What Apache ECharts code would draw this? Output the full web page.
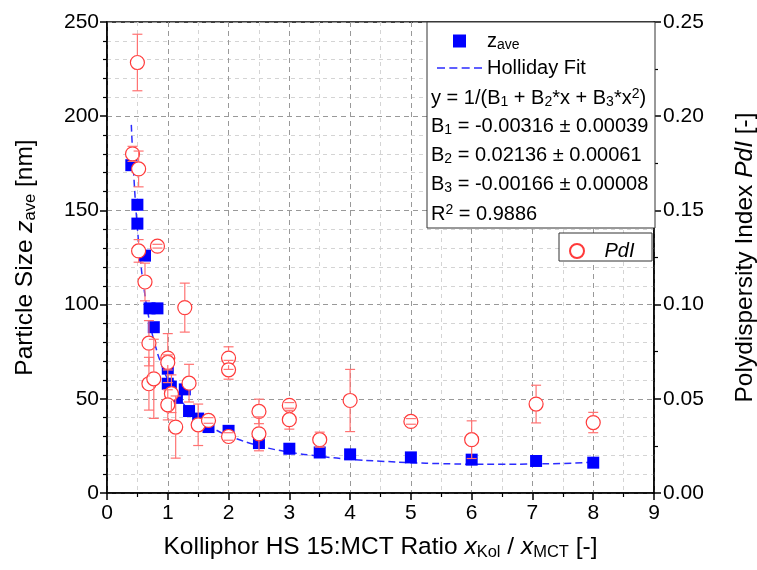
<!DOCTYPE html>
<html>
<head>
<meta charset="utf-8">
<script src="https://cdn.jsdelivr.net/npm/echarts@6.0.0/dist/echarts.min.js"></script>
<style>
  body { margin: 0; background: #fff; }
  #chart { width: 757px; height: 570px; }
</style>
</head>
<body>
<div id="chart"></div>
<script>
// particle size z_ave [nm]
var zaveX = [0.4, 0.5, 0.5, 0.625, 0.7, 0.83, 0.77, 1.0, 1.0, 1.05, 1.15, 1.28, 1.35, 1.5, 1.67, 2, 2.5, 3, 3.5, 4, 5, 6, 7.06, 8];
var zaveY = [174, 153, 143, 126, 98, 98, 88, 66, 58, 56.5, 50.5, 55, 43.5, 39.5, 35, 33, 26.5, 23.5, 21.5, 20.5, 18.9, 17.7, 17, 16.1];

// Holliday fit curve
var fitX = [0.4, 0.45, 0.5, 0.55, 0.6, 0.7, 0.8, 0.9, 1, 1.25, 1.5, 1.75, 2, 2.5, 3, 3.5, 4, 4.5, 5, 5.5, 6, 6.5, 7, 7.5, 8];
var fitY = [195.4, 163.5, 140.7, 123.7, 110.4, 91.1, 77.7, 67.9, 60.5, 47.7, 39.8, 34.3, 30.4, 25.1, 21.7, 19.5, 17.9, 16.9, 16.1, 15.6, 15.3, 15.3, 15.4, 15.7, 16.3];

// polydispersity index PdI with error bars
var pdiX   = [0.42, 0.5, 0.52, 0.52, 0.83, 0.625, 0.69, 0.69, 0.77, 1.0, 1.0, 1.06, 1.0, 1.13, 1.28, 1.35, 1.5, 1.67, 2.0, 2.0, 2.0, 2.5, 2.5, 3.0, 3.0, 3.5, 4.0, 5.0, 6.0, 7.06, 8.0];
var pdiY   = [0.180, 0.2285, 0.172, 0.1285, 0.131, 0.112, 0.0795, 0.058, 0.0606, 0.0716, 0.0693, 0.0527, 0.0468, 0.035, 0.0984, 0.0583, 0.0362, 0.0385, 0.0716, 0.0654, 0.030, 0.0433, 0.0314, 0.0465, 0.0389, 0.0283, 0.0491, 0.038, 0.0283, 0.0472, 0.0374];
var pdiErr = [0.004, 0.015, 0.0095, 0.006, 0.001, 0.010, 0.012, 0.014, 0.021, 0.013, 0.004, 0.010, 0.008, 0.0165, 0.013, 0.010, 0.011, 0.0015, 0.006, 0.005, 0.002, 0.0065, 0.009, 0.0015, 0.005, 0.004, 0.0165, 0.0015, 0.010, 0.010, 0.0054];

var xTicks = [0, 1, 2, 3, 4, 5, 6, 7, 8, 9];

var FONT = 'Liberation Sans, Arial, sans-serif';

var zaveData = zaveX.map(function (x, i) { return [x, zaveY[i]]; });
var fitData = fitX.map(function (x, i) { return [x, fitY[i]]; });
var pdiData = pdiX.map(function (x, i) { return [x, pdiY[i], pdiErr[i]]; });

var myChart = echarts.init(document.getElementById('chart'));

var subRich = {
  n: { fontSize: 20, fontFamily: FONT, color: '#000' },
  sub: { fontSize: 14, fontFamily: FONT, color: '#000', verticalAlign: 'bottom', padding: [8, 0, 0, 0] },
  sup: { fontSize: 14, fontFamily: FONT, color: '#000', verticalAlign: 'top', padding: [0, 0, 8, 0] }
};

function eqText(txt, y) {
  return {
    type: 'text', left: 431, top: y, z: 10,
    style: { text: txt, rich: subRich, font: '20px ' + FONT, fill: '#000' }
  };
}

// dashed legend icon for the fit line
var dashIcon = 'path://M0,0h8v1.6h-8z M12.3,0h8v1.6h-8z M24.6,0h8v1.6h-8z M36.9,0h8v1.6h-8z';

var option = {
  animation: false,
  backgroundColor: '#fff',
  grid: {
    left: 107, right: 103, top: 22, bottom: 77, containLabel: false, outerBoundsMode: 'none',
    show: true, borderColor: '#000', borderWidth: 1.5, backgroundColor: 'transparent'
  },
  legend: [
    {
      orient: 'vertical', left: 432, top: 25, itemGap: 5,
      itemWidth: 45, itemHeight: 13,
      data: [
        { name: 'zave', icon: 'path://M0,0L10,0L10,10L0,10Z' },
        { name: 'Holliday Fit', icon: dashIcon }
      ],
      formatter: function (name) {
        return name === 'zave' ? '{i|z}{s|ave}' : '{i|Holliday Fit}';
      },
      textStyle: {
        fontFamily: FONT, fontSize: 20, color: '#000', lineHeight: 22,
        rich: {
          i: { fontFamily: FONT, fontSize: 20, color: '#000' },
          s: { fontFamily: FONT, fontSize: 14, color: '#000', verticalAlign: 'bottom', padding: [9, 0, 0, 0] }
        }
      }
    },
    {
      orient: 'vertical', left: 564, top: 236,
      itemWidth: 45, itemHeight: 14,
      data: [{ name: 'PdI', icon: 'circle' }],
      formatter: function () { return 'PdI'; },
      textStyle: { fontFamily: FONT, fontSize: 20, fontStyle: 'italic', color: '#000' }
    }
  ],
  graphic: [
    { type: 'rect', shape: { x: 427, y: 22, width: 228, height: 206 }, style: { fill: '#fff', stroke: '#333', lineWidth: 1 }, z: 1 },
    { type: 'rect', shape: { x: 559, y: 233, width: 93, height: 28 }, style: { fill: '#fff', stroke: '#333', lineWidth: 1 }, z: 1 },
    eqText('{n|y = 1/(B}{sub|1}{n| + B}{sub|2}{n|*x + B}{sub|3}{n|*x}{sup|2}{n|)}', 87),
    eqText('{n|B}{sub|1}{n| = -0.00316 ± 0.00039}', 116),
    eqText('{n|B}{sub|2}{n| = 0.02136 ± 0.00061}', 145),
    eqText('{n|B}{sub|3}{n| = -0.00166 ± 0.00008}', 174),
    eqText('{n|R}{sup|2}{n| = 0.9886}', 203)
  ],
  xAxis: {
    type: 'value', min: 0, max: 9, interval: 1,
    name: '{n|Kolliphor HS 15:MCT Ratio }{i|x}{s|Kol}{n| / }{i|x}{s|MCT}{n| [-]}',
    nameLocation: 'middle', nameGap: 40,
    nameTextStyle: {
      rich: {
        n: { fontFamily: FONT, fontSize: 24.5, color: '#000' },
        i: { fontFamily: FONT, fontSize: 24.5, fontStyle: 'italic', color: '#000' },
        s: { fontFamily: FONT, fontSize: 16.5, color: '#000', verticalAlign: 'bottom', padding: [11, 0, 0, 0] }
      }
    },
    axisLine: { onZero: false, lineStyle: { color: '#000', width: 1.5 } },
    axisTick: { inside: false, length: 7, lineStyle: { color: '#000', width: 1.5 } },
    minorTick: { show: true, splitNumber: 2, length: 4, lineStyle: { color: '#000', width: 1.2 } },
    axisLabel: {
      fontFamily: FONT, fontSize: 21, color: '#000', margin: 10,
      formatter: function (v) { return xTicks.indexOf(v) >= 0 ? String(v) : ''; }
    },
    splitLine: { show: true, lineStyle: { color: '#999', type: [5, 4], width: 1 } },
    minorSplitLine: { show: true, lineStyle: { color: '#d4d4d4', type: [4, 4], width: 1 } }
  },
  yAxis: [
    {
      type: 'value', min: 0, max: 250, interval: 50, position: 'left',
      name: '{n|Particle Size }{i|z}{s|ave}{n| [nm]}',
      nameLocation: 'middle', nameGap: 68, nameRotate: 90,
      nameTextStyle: {
        rich: {
          n: { fontFamily: FONT, fontSize: 24.5, color: '#000' },
          i: { fontFamily: FONT, fontSize: 24.5, fontStyle: 'italic', color: '#000' },
          s: { fontFamily: FONT, fontSize: 16.5, color: '#000', verticalAlign: 'bottom', padding: [11, 0, 0, 0] }
        }
      },
      axisLine: { show: true, onZero: false, lineStyle: { color: '#000', width: 1.5 } },
      axisTick: { show: true, length: 7, lineStyle: { color: '#000', width: 1.5 } },
      minorTick: { show: true, splitNumber: 5, length: 4, lineStyle: { color: '#000', width: 1.2 } },
      axisLabel: { fontFamily: FONT, fontSize: 21, color: '#000', margin: 8 },
      splitLine: { show: true, lineStyle: { color: '#999', type: [5, 4], width: 1 } },
      minorSplitLine: { show: true, lineStyle: { color: '#d4d4d4', type: [4, 4], width: 1 } }
    },
    {
      type: 'value', min: 0, max: 0.25, interval: 0.05, position: 'right',
      name: '{n|Polydispersity Index }{i|PdI}{n| [-]}',
      nameLocation: 'middle', nameGap: 79, nameRotate: 90,
      nameTextStyle: {
        rich: {
          n: { fontFamily: FONT, fontSize: 24.5, color: '#000' },
          i: { fontFamily: FONT, fontSize: 24.5, fontStyle: 'italic', color: '#000' }
        }
      },
      axisLine: { show: true, onZero: false, lineStyle: { color: '#000', width: 1.5 } },
      axisTick: { show: true, length: 7, lineStyle: { color: '#000', width: 1.5 } },
      minorTick: { show: true, splitNumber: 2, length: 4, lineStyle: { color: '#000', width: 1.2 } },
      axisLabel: {
        fontFamily: FONT, fontSize: 21, color: '#000', margin: 9,
        formatter: function (v) { return v.toFixed(2); }
      },
      splitLine: { show: false }
    }
  ],
  series: [
    {
      name: 'Holliday Fit', type: 'line', data: fitData, smooth: true,
      symbol: 'none', z: 2,
      lineStyle: { color: '#2b2bff', width: 1.5, type: [7, 4] },
      itemStyle: { color: '#2b2bff' }
    },
    {
      name: 'zave', type: 'scatter', data: zaveData, symbol: 'rect', symbolSize: 12, z: 3,
      itemStyle: { color: '#0000ff', opacity: 1 }
    },
    {
      name: 'PdI', type: 'scatter', yAxisIndex: 1, data: pdiData, symbol: 'circle', symbolSize: 14, z: 4,
      itemStyle: { color: '#fff', borderColor: '#ff3a3a', borderWidth: 1.2, opacity: 1 }
    },
    {
      name: 'PdI err', type: 'custom', yAxisIndex: 1, data: pdiData, z: 5,
      encode: { x: 0, y: 1 },
      renderItem: function (params, api) {
        var x = api.value(0), y = api.value(1), e = api.value(2);
        var c = api.coord([x, y]);
        var t = api.coord([x, y + e]);
        var b = api.coord([x, y - e]);
        var r = 7, w = 5;
        var st = { stroke: '#ff7272', lineWidth: 1.2 };
        var kids = [
          { type: 'line', shape: { x1: c[0] - w, y1: t[1], x2: c[0] + w, y2: t[1] }, style: st },
          { type: 'line', shape: { x1: c[0] - w, y1: b[1], x2: c[0] + w, y2: b[1] }, style: st }
        ];
        if (t[1] < c[1] - r) kids.push({ type: 'line', shape: { x1: c[0], y1: c[1] - r, x2: c[0], y2: t[1] }, style: st });
        if (b[1] > c[1] + r) kids.push({ type: 'line', shape: { x1: c[0], y1: c[1] + r, x2: c[0], y2: b[1] }, style: st });
        return { type: 'group', children: kids };
      }
    }
  ]
};

myChart.setOption(option);
</script>
</body>
</html>
